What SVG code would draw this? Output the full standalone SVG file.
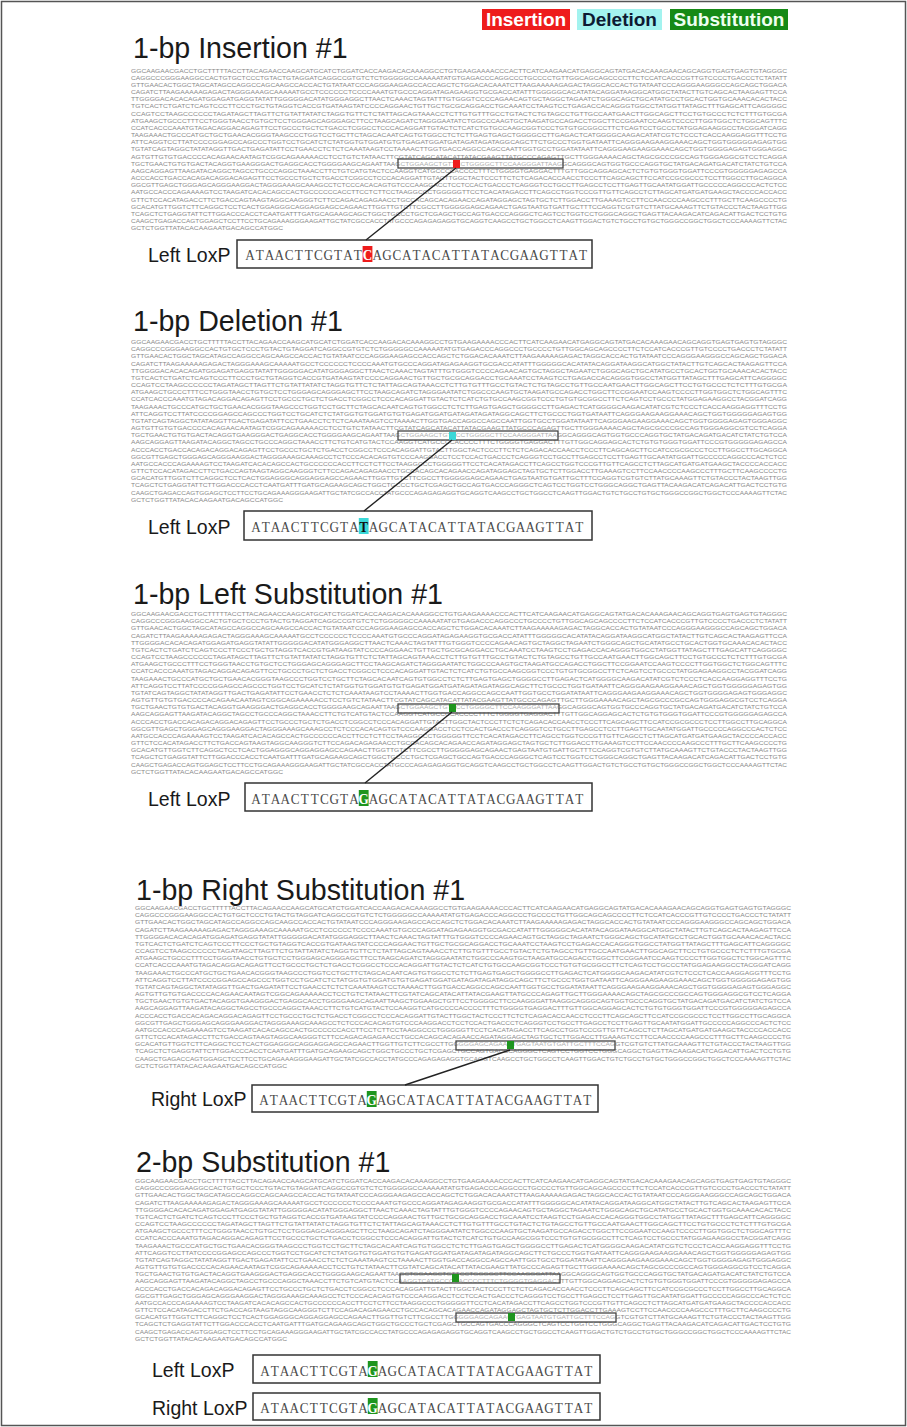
<svg xmlns="http://www.w3.org/2000/svg" xmlns:xlink="http://www.w3.org/1999/xlink" width="907" height="1427" viewBox="0 0 907 1427">
<style>
.title{font-family:"Liberation Sans",Arial,sans-serif;font-size:28.6px;fill:#1a1a1a}
.lbl{font-family:"Liberation Sans",Arial,sans-serif;font-size:19.5px;fill:#1a1a1a}
.seq{font-family:"Liberation Sans",Arial,sans-serif;font-size:5.6px;fill:#8a8a8a}
.lox{font-family:"Liberation Serif","Times New Roman",serif;font-size:15.5px;fill:#4a4a4a;text-anchor:middle}
.loxbox{fill:#fff;stroke:#333;stroke-width:1.5}
.hbox{fill:#fff;fill-opacity:0.3;stroke:#444;stroke-width:1.3}
.leg{font-family:"Liberation Sans",Arial,sans-serif;font-size:19px;font-weight:bold}
.conn{stroke:#222;stroke-width:1.4;fill:none}
.ins{fill:#ee1c1c}.del{fill:#3ad8d8}.sub{fill:#1e951e}
.hc{font-weight:bold}
</style>
<defs>
<g id="seqblock" class="seq">
<text x="0" y="0" textLength="656" lengthAdjust="spacingAndGlyphs">GGCAAGAACGACCTGCTTTTTACCTTACAGAACCAAGCATGCATCTGGATCACCAAGACACAAAGGCCTGTGAAGAAAACCCACTTCATCAAGAACATGAGGCAGTATGACACAAAGAACAGCAGGTGAGTGAGTGTAGGGC</text>
<text x="0" y="7.17" textLength="656" lengthAdjust="spacingAndGlyphs">CAGGCCCGGGAAGGCCACTGTGCTCCCTGTACTGTAGGATCAGGCCGTGTCTCTGGGGGCCAAAAATATGTGAGACCCAGGCCCTGCCCCTGTTGGCAGCAGCCCCTTCTCCATCACCCGTTGTCCCCTGACCCTCTATATT</text>
<text x="0" y="14.34" textLength="656" lengthAdjust="spacingAndGlyphs">GTTGAACACTGGCTAGCATAGCCAGGCCAGCAAGCCACCACTGTATAATCCCAGGGAAGAGCCACCAGCTCTGGACACAAATCTTAAGAAAAAGAGACTAGGCACCACTGTATAATCCCAGGGAAGGGCCAGCAGCTGGACA</text>
<text x="0" y="21.51" textLength="656" lengthAdjust="spacingAndGlyphs">CAGATCTTAAGAAAAAGAGACTAGGGAAAGCAAAAATGCCTCCCCCCTCCCCAAATGTGCCCAGGATAGAGAAGGTGCGACCATATTTGGGGGCACATATACAGGATAAGGCATGGCTATACTTGTCAGCACTAAGAGTTCCA</text>
<text x="0" y="28.68" textLength="656" lengthAdjust="spacingAndGlyphs">TTGGGGACACACAGATGGAGATGAGGTATATTGGGGGACATATGGGAGGCTTAACTCAAACTAGTATTTGTGGGTCCCCAGAACAGTGCTAGGCTAGAATCTGGGCAGCTGCATATGCCTGCACTGGTGCAAACACACTACC</text>
<text x="0" y="35.85" textLength="656" lengthAdjust="spacingAndGlyphs">TGTCACTCTGATCTCAGTCCCTTCCCTGCTGTAGGTCACCGTGATAAGTATCCCCAGGAACTGTTGCTGCGCAGGACCTGCAAATCCTAAGTCCTGAGACCACAGGGTGGCCTATGGTTATAGCTTTGAGCATTCAGGGGC</text>
<text x="0" y="43.02" textLength="656" lengthAdjust="spacingAndGlyphs">CCAGTCCTAAGCCCCCCTAGATAGCTTAGTTCTGTATTATATCTAGGTGTTCTCTATTAGCAGTAAACCTCTTGTGTTTGCCTGTACTCTGTAGCCTGTTGCCAATGAACTTGGCAGCTTCCTGTGCCCTCTCTTTGTGCGA</text>
<text x="0" y="50.19" textLength="656" lengthAdjust="spacingAndGlyphs">ATGAAGCTGCCCTTTCCTGGGTAACCTGTGCTCCTGGGAGCAGGGAGCTTCCTAAGCAGATCTAGGGAATATCTGGCCCAAGTGCTAAGATGCCAGACCTGGCTTCCGGAATCCAAGTCCCCTTGGTGGCTCTGGCAGTTTC</text>
<text x="0" y="57.36" textLength="656" lengthAdjust="spacingAndGlyphs">CCATCACCCAAATGTAGACAGGACAGAGTTCCTGCCCTGCTCTGACCTCGGCCTCCCACAGGATTGTACTCTCATCTGTGCCAAGCGGTCCCTGTGTGCGGCCTTCTCAGTCCTGCCCTATGGAGAAGGCCTACGGATCAGG</text>
<text x="0" y="64.53" textLength="656" lengthAdjust="spacingAndGlyphs">TAAGAAACTGCCCATGCTGCTGAACACGGGTAAGCCCTGGTCCTGCTTCTAGCACAATCAGTGTGGCCTCTCTTGAGTGAGCTGGGGCCTTGAGACTCATGGGGCAAGACATATCGTCTCCCTCACCAAGGAGGTTTCCTG</text>
<text x="0" y="71.7" textLength="656" lengthAdjust="spacingAndGlyphs">ATTCAGGTCCTTATCCCCGGAGCCAGCCCTGGTCCTGCATCTCTATGGTGTGGATGTGTGAGATGGATGATAGATAGATAGGCAGCTTCTGCCCTGGTGATAATTCAGGGAAGAAGGAAACAGCTGGTGGGGGAGAGTGG</text>
<text x="0" y="78.87" textLength="656" lengthAdjust="spacingAndGlyphs">TGTATCAGTAGGCTATATAGGTTGACTGAGATATTCCTGAACCTCTCTCAAATAAGTCCTAAAACTTGGTGACCAGGCCAGCCAATTGGTGCCTGGATATAATTCAGGGAAGAAGGAAACAGCTGGTGGGGAGAGTGGGAGGC</text>
<text x="0" y="86.04" textLength="656" lengthAdjust="spacingAndGlyphs">AGTGTTGTGTGACCCCACAGAACAATAGTCGGCAGAAAAACCTCCTGTCTATAACTTCGTATCAGCATACATTATACGAAGTTATGCCCAGAGTTGCTTGGGAAAACAGCTAGCGCCCGCCAGTGGGAGGCGTCCTCAGGA</text>
<text x="0" y="93.21" textLength="656" lengthAdjust="spacingAndGlyphs">TGCTGAACTGTGTGACTACAGGTGAAGGGACTGAGGCACCTGGGGAAGCAGAATTAAGCTGGAAGCTGTTCCTGGGGCTTCCAAGGGATTAAGGCAGGGCAGTGGTGCCCAGGTGCTATGACAGATGACATCTATCTGTCCA</text>
<text x="0" y="100.38" textLength="656" lengthAdjust="spacingAndGlyphs">AAGCAGGAGTTAAGATACAGGCTAGCCTGCCCAGGCTAAACCTTCTGTCATGTACTCCAAGGTCATGCCCCACCCCTTTCTGGGGTGAGGACTTTGTTGGCAGGAGCACTCTGTGTGGGTGGATTCCCGTGGGGGAGAGCCA</text>
<text x="0" y="107.55" textLength="656" lengthAdjust="spacingAndGlyphs">ACCCACCTGACCACAGACAGGACAGAGTTCCTGCCCTGCTCTGACCTCGGCCTCCCACAGGATTGTACTTGGCTACTCCCTTCTCTCAGACACCAACCTCCCTTCAGCAGCTTCCATCCGCGCCCTCCTTGGCCTTGCAGGCA</text>
<text x="0" y="114.72" textLength="656" lengthAdjust="spacingAndGlyphs">GGCGTTGAGCTGGGAGCAGGGAAGGACTAGGGAAAGCAAAGCCTCTCCCACACAGTGTCCCAAGGACCTCCTCCACTGACCCTCAGGGTCCTGCCTTGAGCCTCCTTGAGTTGCAATATGGATTGCCCCCAGGCCCACTCTCC</text>
<text x="0" y="121.89" textLength="656" lengthAdjust="spacingAndGlyphs">AATGCCACCCAGAAAAGTCCTAAGATCACACAGCCACTGCCCCCCACCTTCCTCTTCCTAAGGCCCTGGGGGTTCCTCACATAGACCTTCAGCCTGGTCCCGTTGTTCAGCCTCTTAGCATGATGATGAAGCTACCCCACCACC</text>
<text x="0" y="129.06" textLength="656" lengthAdjust="spacingAndGlyphs">GTTCTCCACATAGACCTTCTGACCAGTAAGTAGGCAAGGGTCTTCCAGACAGAGAACCTGCCACAGCACAGAACCAGATAGGAGCTAGTGCTCTTGGACCTTGAAAGTCCTTCCAACCCCAAGCCCTTTGCTTCAAGCCCCTG</text>
<text x="0" y="136.23" textLength="656" lengthAdjust="spacingAndGlyphs">GCACATGTTGGTCTTCAGGCTCCTCACTGGAGGGCAGGAGGAGCCAGAACTTGGTTGTCTTCGCCTTGGGGGAGCAGAACTGAGTAATGTGATTGCTTTCCAGGTCGTGTCTTATGCAAAGTTCTGTACCCTACTAAGTTGG</text>
<text x="0" y="143.4" textLength="656" lengthAdjust="spacingAndGlyphs">TCAGCTCTGAGGTATTCTTGGACCCACCTCAATGATTTGATGCAGAAGCAGCTGGCTGCCCTGCTCGAGCTGCCAGTGACCCAGGGCTCAGTCCTGGTCCTGGGCAGGCTGAGTTACAAGACATCAGACATTGACTCCTGTG</text>
<text x="0" y="150.57" textLength="656" lengthAdjust="spacingAndGlyphs">CAAGCTGAGACCAGTGGAGCTCCTTCCTGCAGAAAGGGAAGATTGCTATCGCCACCTATGCCCAGAGAGAGGTGCAGGTCAAGCCTGCTGGCCTCAAGTTGGACTGTCTGCCTGTGCTGGGCCGGCTGGCTCCCAAAAGTTCTAC</text>
<text x="0" y="157.74" textLength="152" lengthAdjust="spacingAndGlyphs">GCTCTGGTTATACACAAGAATGACAGCCATGGC</text>
</g>
</defs>

<rect x="1.5" y="1.5" width="904" height="1424" fill="#fff" stroke="#555" stroke-width="1.5"/>

<g id="legend">
<rect x="482" y="9" width="88" height="21" class="ins"/>
<text x="526" y="26" text-anchor="middle" class="leg" fill="#fff">Insertion</text>
<rect x="577" y="9" width="85" height="21" fill="#a3f3ef"/>
<text x="619.5" y="26" text-anchor="middle" class="leg" fill="#0d1a33">Deletion</text>
<rect x="670" y="9" width="118" height="21" fill="#168a16"/>
<text x="729" y="26" text-anchor="middle" class="leg" fill="#eefff0">Substitution</text>
</g>

<g id="panel1">
<text x="133" y="58" class="title">1-bp Insertion #1</text>
<use xlink:href="#seqblock" href="#seqblock" transform="translate(131,72.5)"/>
<rect x="398" y="159" width="165" height="9" class="hbox"/>
<rect x="453" y="160" width="7" height="8" class="ins"/>
<text x="148" y="262" class="lbl">Left LoxP</text>
<rect x="237" y="240" width="355" height="28" class="loxbox"/>
<rect x="362.6" y="246" width="9.8" height="16" class="ins"/>
<g transform="translate(245,260) scale(0.85,1)"><text class="lox" x="5.76 17.29 28.82 40.35 51.88 63.41 74.94 86.47 98.0 109.53 121.06 132.59 144.12 155.65 167.18 178.71 190.24 201.76 213.29 224.82 236.35 247.88 259.41 270.94 282.47 294.0 305.53 317.06 328.59 340.12 351.65 363.18 374.71 386.24 397.76" y="0">ATAACTTCGTAT<tspan class="hc" fill="#fff">C</tspan>AGCATACATTATACGAAGTTAT</text></g>
</g>

<g id="panel2">
<text x="133" y="331" class="title">1-bp Deletion #1</text>
<use xlink:href="#seqblock" href="#seqblock" transform="translate(131,344)"/>
<rect x="398" y="431" width="160" height="9" class="hbox"/>
<rect x="449" y="432" width="7" height="8" class="del"/>
<text x="148" y="534" class="lbl">Left LoxP</text>
<rect x="244" y="511" width="348" height="29" class="loxbox"/>
<rect x="358.8" y="518" width="9.8" height="16" class="del"/>
<g transform="translate(251,532) scale(0.85,1)"><text class="lox" x="5.76 17.29 28.82 40.35 51.88 63.41 74.94 86.47 98.0 109.53 121.06 132.59 144.12 155.65 167.18 178.71 190.24 201.76 213.29 224.82 236.35 247.88 259.41 270.94 282.47 294.0 305.53 317.06 328.59 340.12 351.65 363.18 374.71 386.24" y="0">ATAACTTCGTA<tspan class="hc" fill="#111">T</tspan>AGCATACATTATACGAAGTTAT</text></g>
</g>

<g id="panel3">
<text x="133" y="604" class="title">1-bp Left Substitution #1</text>
<use xlink:href="#seqblock" href="#seqblock" transform="translate(131,616)"/>
<rect x="398" y="704" width="161" height="9" class="hbox"/>
<rect x="449" y="704" width="7" height="8" class="sub"/>
<text x="148" y="806" class="lbl">Left LoxP</text>
<rect x="245" y="783" width="347" height="28" class="loxbox"/>
<rect x="358.8" y="790" width="9.8" height="16" class="sub"/>
<g transform="translate(251,804) scale(0.85,1)"><text class="lox" x="5.76 17.29 28.82 40.35 51.88 63.41 74.94 86.47 98.0 109.53 121.06 132.59 144.12 155.65 167.18 178.71 190.24 201.76 213.29 224.82 236.35 247.88 259.41 270.94 282.47 294.0 305.53 317.06 328.59 340.12 351.65 363.18 374.71 386.24" y="0">ATAACTTCGTA<tspan class="hc" fill="#fff">G</tspan>AGCATACATTATACGAAGTTAT</text></g>
</g>

<g id="panel4">
<text x="136" y="900" class="title">1-bp Right Substitution #1</text>
<use xlink:href="#seqblock" href="#seqblock" transform="translate(135,910)"/>
<rect x="456" y="1041" width="159" height="9" class="hbox"/>
<rect x="507" y="1041" width="7" height="8" class="sub"/>
<text x="151" y="1106" class="lbl">Right LoxP</text>
<rect x="252" y="1085" width="346" height="27" class="loxbox"/>
<rect x="366.8" y="1091" width="9.8" height="16" class="sub"/>
<g transform="translate(259,1105) scale(0.85,1)"><text class="lox" x="5.76 17.29 28.82 40.35 51.88 63.41 74.94 86.47 98.0 109.53 121.06 132.59 144.12 155.65 167.18 178.71 190.24 201.76 213.29 224.82 236.35 247.88 259.41 270.94 282.47 294.0 305.53 317.06 328.59 340.12 351.65 363.18 374.71 386.24" y="0">ATAACTTCGTA<tspan class="hc" fill="#fff">G</tspan>AGCATACATTATACGAAGTTAT</text></g>
</g>

<g id="panel5">
<text x="136" y="1172" class="title">2-bp Substitution #1</text>
<use xlink:href="#seqblock" href="#seqblock" transform="translate(135,1183)"/>
<rect x="400" y="1274" width="160" height="9" class="hbox"/>
<rect x="452" y="1274" width="7" height="8" class="sub"/>
<rect x="456" y="1313" width="160" height="9" class="hbox"/>
<rect x="508" y="1313" width="7" height="8" class="sub"/>
<text x="152" y="1377" class="lbl">Left LoxP</text>
<rect x="253" y="1355" width="347" height="28" class="loxbox"/>
<rect x="367.8" y="1361" width="9.8" height="16" class="sub"/>
<g transform="translate(260,1376) scale(0.85,1)"><text class="lox" x="5.76 17.29 28.82 40.35 51.88 63.41 74.94 86.47 98.0 109.53 121.06 132.59 144.12 155.65 167.18 178.71 190.24 201.76 213.29 224.82 236.35 247.88 259.41 270.94 282.47 294.0 305.53 317.06 328.59 340.12 351.65 363.18 374.71 386.24" y="0">ATAACTTCGTA<tspan class="hc" fill="#fff">G</tspan>AGCATACATTATACGAAGTTAT</text></g>
<text x="152" y="1415" class="lbl">Right LoxP</text>
<rect x="253" y="1393" width="347" height="27" class="loxbox"/>
<rect x="367.8" y="1398" width="9.8" height="16" class="sub"/>
<g transform="translate(260,1413) scale(0.85,1)"><text class="lox" x="5.76 17.29 28.82 40.35 51.88 63.41 74.94 86.47 98.0 109.53 121.06 132.59 144.12 155.65 167.18 178.71 190.24 201.76 213.29 224.82 236.35 247.88 259.41 270.94 282.47 294.0 305.53 317.06 328.59 340.12 351.65 363.18 374.71 386.24" y="0">ATAACTTCGTA<tspan class="hc" fill="#fff">G</tspan>AGCATACATTATACGAAGTTAT</text></g>
</g>

<g id="connectors" class="conn">
<line x1="456" y1="168" x2="366" y2="240"/>
<line x1="452" y1="440" x2="364" y2="511"/>
<line x1="452" y1="712" x2="365" y2="783"/>
<line x1="510" y1="1050" x2="405" y2="1085"/>
</g>
</svg>
